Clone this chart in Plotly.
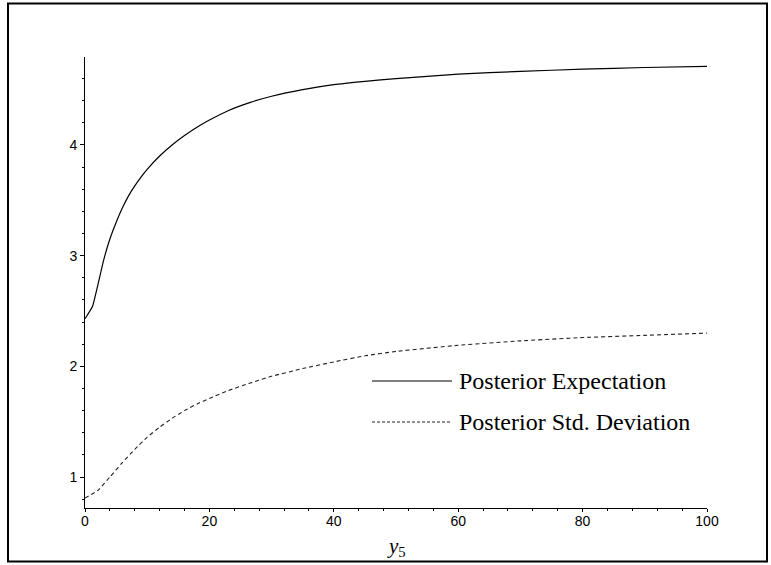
import plotly.graph_objects as go

# ---- data ----
x_expect = [0, 1.2, 2.0, 3.0, 4.0, 5.0, 6.0, 7.0, 8.0, 9.0, 10, 12, 14, 16, 18, 20, 23, 26.6, 30, 35, 40, 45, 50, 60, 70, 80, 90, 100]
y_expect = [2.43, 2.54, 2.72, 2.96, 3.15, 3.30, 3.43, 3.54, 3.63, 3.71, 3.78, 3.90, 4.00, 4.085, 4.16, 4.225, 4.31, 4.385, 4.44, 4.50, 4.545, 4.575, 4.60, 4.64, 4.665, 4.685, 4.70, 4.71]

x_std = [0, 2.1, 4, 6, 8, 10, 12, 14, 16, 18, 20, 23, 26.6, 30, 35, 40, 45, 50, 60, 70, 80, 90, 100]
y_std = [0.81, 0.88, 1.00, 1.13, 1.25, 1.36, 1.45, 1.53, 1.60, 1.66, 1.71, 1.78, 1.85, 1.91, 1.98, 2.04, 2.095, 2.135, 2.19, 2.23, 2.26, 2.28, 2.30]

series_names = ["Posterior Expectation", "Posterior Std. Deviation"]
x_ticks = [0, 20, 40, 60, 80, 100]
y_ticks = [1, 2, 3, 4]

W, H = 771, 565
L, R, T, B = 85, 64, 57, 57
PW, PH = W - L - R, H - T - B

def px(xp):
    return (xp - L) / PW

def py(yp):
    return (H - B - yp) / PH

fig = go.Figure()
fig.add_trace(go.Scatter(x=x_expect, y=y_expect, mode="lines", name=series_names[0],
                         line=dict(color="black", width=1.2, shape="spline", smoothing=0.4),
                         showlegend=False))
fig.add_trace(go.Scatter(x=x_std, y=y_std, mode="lines", name=series_names[1],
                         line=dict(color="#222", width=1.1, dash="4px,3px", shape="spline", smoothing=0.4),
                         showlegend=False))

tickfont = dict(family="Liberation Sans, Arial, sans-serif", size=14, color="black")
serif = "Liberation Serif, Times New Roman, serif"

fig.update_xaxes(range=[0, 100], tickvals=x_ticks, ticktext=[str(v) for v in x_ticks],
                 ticks="outside", ticklen=3, tickcolor="black", tickwidth=1,
                 minor=dict(dtick=4, tick0=0, ticks="outside", ticklen=2, tickcolor="black"),
                 showline=True, linecolor="black", linewidth=1, showgrid=False, zeroline=False,
                 tickfont=tickfont, ticklabelstandoff=-3)
fig.update_yaxes(range=[0.72, 4.795], tickvals=y_ticks, ticktext=[str(v) for v in y_ticks],
                 ticks="outside", ticklen=4, tickcolor="black", tickwidth=1,
                 minor=dict(dtick=0.2, tick0=0, ticks="outside", ticklen=2, tickcolor="black"),
                 showline=True, linecolor="black", linewidth=1, showgrid=False, zeroline=False,
                 tickfont=tickfont)

shapes = [
    # outer frame
    dict(type="rect", xref="paper", yref="paper", x0=px(8), x1=px(767), y0=py(561.5), y1=py(3.5),
         line=dict(color="black", width=2), fillcolor="rgba(0,0,0,0)", layer="above"),
    # legend samples
    dict(type="line", xref="paper", yref="paper", x0=px(372), x1=px(452), y0=py(381), y1=py(381),
         line=dict(color="black", width=1.2)),
    dict(type="line", xref="paper", yref="paper", x0=px(372), x1=px(452), y0=py(422), y1=py(422),
         line=dict(color="#222", width=1, dash="3px,2px")),
]

annotations = [
    dict(text=series_names[0], xref="paper", yref="paper", x=px(457), y=py(381), xanchor="left",
         yanchor="middle", showarrow=False, font=dict(family=serif, size=24, color="black")),
    dict(text=series_names[1], xref="paper", yref="paper", x=px(457), y=py(422), xanchor="left",
         yanchor="middle", showarrow=False, font=dict(family=serif, size=24, color="black")),
    dict(text="<i>y</i><sub>5</sub>", xref="paper", yref="paper", x=px(396), y=py(547),
         xanchor="center", yanchor="middle", showarrow=False,
         font=dict(family=serif, size=21, color="black")),
]

fig.update_layout(width=W, height=H, margin=dict(l=L, r=R, t=T, b=B, pad=0),
                  paper_bgcolor="white", plot_bgcolor="white",
                  shapes=shapes, annotations=annotations, showlegend=False)

fig.write_html("out.html", config={"displayModeBar": False},
               post_script="document.body.style.margin='0px';")
